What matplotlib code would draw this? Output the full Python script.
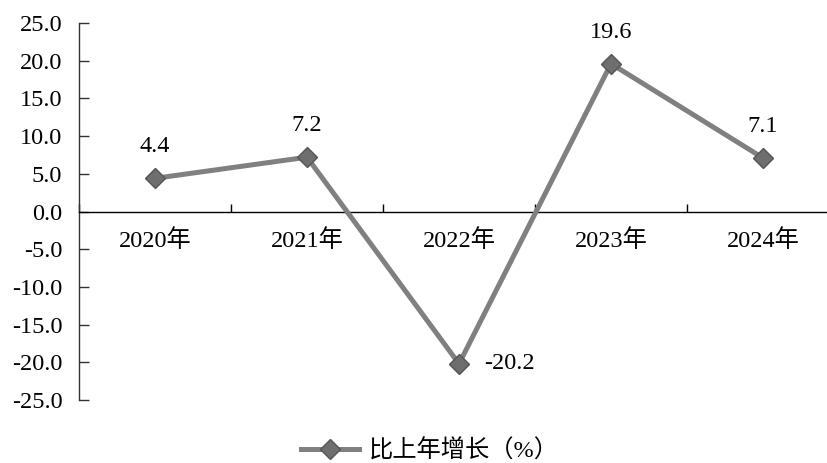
import matplotlib
matplotlib.use('Agg')
import matplotlib.pyplot as plt
from matplotlib.ticker import FixedLocator, FormatStrFormatter

# ─── Data ───
years = ['2020年', '2021年', '2022年', '2023年', '2024年']
growth = [4.4, 7.2, -20.2, 19.6, 7.1]
series_label = '比上年增长（%）'
y_ticks = [-25, -20, -15, -10, -5, 0, 5, 10, 15, 20, 25]

FONT = ['Liberation Serif', 'Noto Sans CJK SC']
FS = 17.5
plt.rcParams['font.family'] = FONT
plt.rcParams['font.size'] = FS
plt.rcParams['axes.unicode_minus'] = False

fig = plt.figure(figsize=(8.28, 4.63), dpi=100)
ax = fig.add_axes([79 / 828, 1 - 400 / 463, (839 - 79) / 828, (400 - 23) / 463])

x = list(range(len(years)))
ax.plot(x, growth, color='#808080', linewidth=3.6, marker='D', markersize=10.5,
        markerfacecolor='#6e6e6e', markeredgecolor='#555555', markeredgewidth=1,
        label=series_label, zorder=3)

# data labels
for xi, v in zip(x, growth):
    if v < 0:
        ax.annotate(f'{v:.1f}', (xi, v), xytext=(18, 0), textcoords='offset points',
                    ha='left', va='center', fontsize=FS)
    else:
        ax.annotate(f'{v:.1f}', (xi, v), xytext=(0, 15), textcoords='offset points',
                    ha='center', va='bottom', fontsize=FS)

ax.set_xlim(-0.5, len(years) - 0.5)
ax.set_ylim(-25, 25)

# axes styling
for side in ['top', 'right']:
    ax.spines[side].set_visible(False)
ax.spines['bottom'].set_position(('data', 0))
for side in ['bottom', 'left']:
    ax.spines[side].set_color('black')
    ax.spines[side].set_linewidth(1.0)
ax.spines['left'].set_color('#333333')

ax.yaxis.set_major_locator(FixedLocator(y_ticks))
ax.yaxis.set_major_formatter(FormatStrFormatter('%.1f'))
ax.tick_params(axis='y', direction='in', length=7, width=1, pad=12, color='#333333')

ax.set_xticks(x)
ax.set_xticklabels(years)
ax.xaxis.set_minor_locator(FixedLocator([i + 0.5 for i in range(-1, len(years))]))
ax.tick_params(axis='x', which='major', length=0, pad=13)
ax.tick_params(axis='x', which='minor', direction='in', length=6, width=1)

ax.legend(loc='center', bbox_to_anchor=((430 - 79) / 760, (400 - 451) / 377),
          frameon=False, handlelength=2.4, handletextpad=0.4, fontsize=FS)

fig.savefig('out.png', dpi=100)
